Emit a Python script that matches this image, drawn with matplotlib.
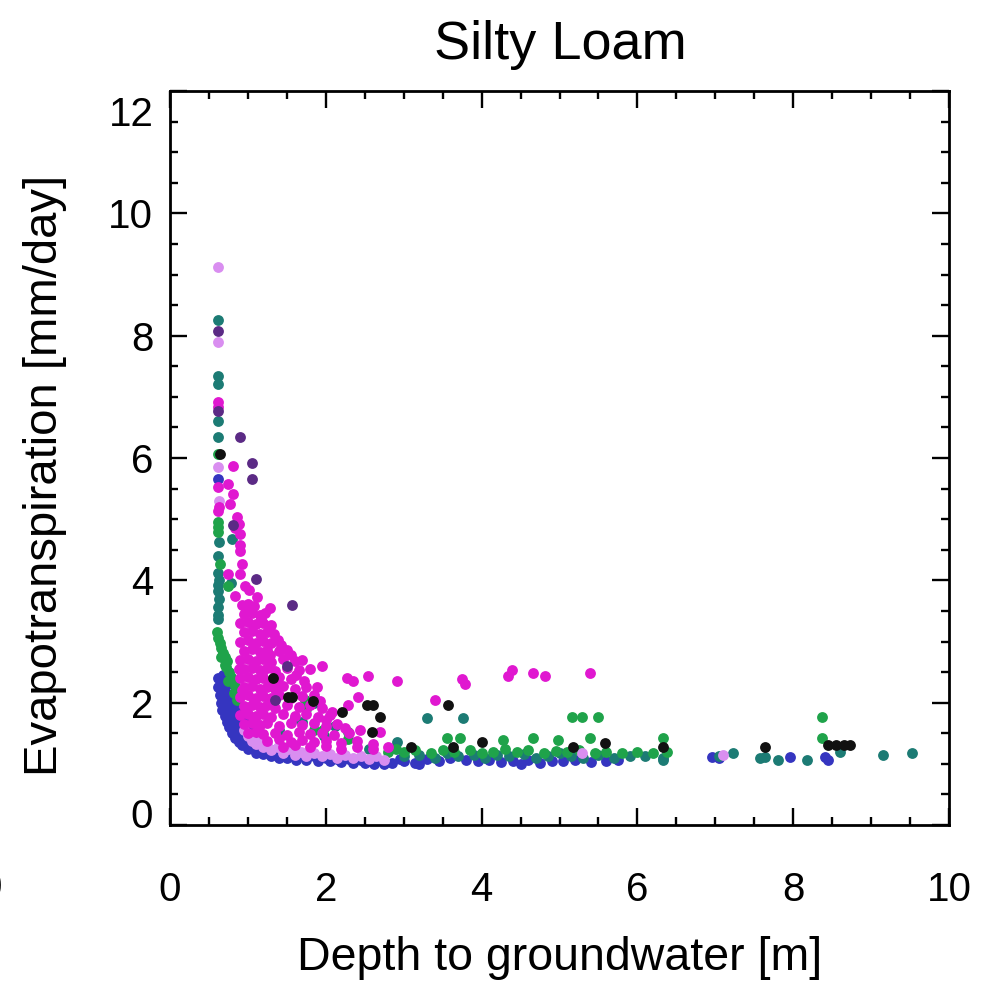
import matplotlib
matplotlib.use("Agg")
import matplotlib.pyplot as plt
from matplotlib.ticker import MultipleLocator
import matplotlib.transforms as mtransforms

plt.rcParams['font.family'] = ['Liberation Sans', 'DejaVu Sans']

title = "Silty Loam"
xlabel = "Depth to groundwater [m]"
ylabel = "Evapotranspiration [mm/day]"
xticks = [0, 2, 4, 6, 8, 10]
yticks = [0, 2, 4, 6, 8, 10, 12]

# ---- data (depth [m], ET [mm/day]) per colour group ----
blue_pts = [
    (0.62, 5.65), (0.62, 2.40), (0.66, 2.35), (0.62, 2.25), (0.68, 2.20), (0.64, 2.12),
    (0.70, 2.05), (0.65, 2.00), (0.72, 1.95), (0.67, 1.88), (0.75, 1.85), (0.70, 1.78),
    (0.78, 1.75), (0.73, 1.68), (0.82, 1.65), (0.76, 1.60), (0.85, 1.55), (0.80, 1.50),
    (0.90, 1.48), (0.84, 1.42), (0.95, 1.40), (0.88, 1.36), (1.00, 1.33), (0.93, 1.30),
    (1.05, 1.27), (1.00, 1.24), (1.12, 1.22), (1.10, 1.18), (1.20, 1.16), (1.30, 1.13),
    (1.40, 1.10), (1.50, 1.09), (1.62, 1.07), (1.75, 1.06), (1.90, 1.05), (2.05, 1.04),
    (2.20, 1.03), (2.35, 1.02), (2.50, 1.02), (2.62, 1.00), (2.75, 1.00), (2.85, 1.02),
    (3.00, 1.05), (3.15, 1.02), (3.30, 1.08), (3.45, 1.05), (3.60, 1.10), (3.80, 1.06),
    (3.95, 1.04), (4.10, 1.07), (4.25, 1.03), (4.40, 1.05), (4.60, 1.07), (4.75, 1.02),
    (4.90, 1.05), (5.05, 1.04), (5.20, 1.06), (5.40, 1.03), (5.60, 1.05), (5.75, 1.07),
    (6.96, 1.11), (7.05, 1.10), (7.96, 1.11), (8.41, 1.11), (8.45, 1.07), (0.78, 2.10),
    (0.74, 2.30), (0.68, 2.45), (0.80, 1.90), (0.86, 1.75), (0.92, 1.58), (1.15, 1.28),
    (0.97, 1.50), (0.72, 2.15), (1.25, 1.20), (3.20, 1.00), (2.95, 1.08), (4.50, 1.00),
    (0.84, 2.00), (0.90, 1.85), (0.95, 1.70), (1.02, 1.55), (1.08, 1.42), (1.18, 1.35),
    (1.35, 1.22), (1.55, 1.17), (1.70, 1.14), (1.85, 1.12), (2.00, 1.10), (2.15, 1.08),
    (2.30, 1.08), (2.45, 1.06), (2.60, 1.06), (2.72, 1.05), (0.66, 2.28), (0.70, 1.90),
]
teal_pts = [
    (0.62, 8.26), (0.62, 7.34), (0.62, 7.21), (0.62, 6.60), (0.62, 6.34), (0.63, 4.62),
    (0.80, 4.67), (0.62, 4.40), (0.62, 4.12), (0.63, 4.00), (0.62, 3.93), (0.62, 3.82),
    (0.63, 3.69), (0.62, 3.56), (0.62, 3.44), (0.62, 3.36), (0.78, 3.95),
    (3.00, 1.12), (3.20, 1.15), (3.40, 1.10), (3.55, 1.17), (3.70, 1.12), (3.90, 1.15),
    (4.05, 1.10), (4.20, 1.14), (4.35, 1.12), (4.55, 1.16), (4.70, 1.10), (4.85, 1.13),
    (5.00, 1.17), (5.15, 1.12), (5.30, 1.10), (5.50, 1.14), (5.70, 1.10), (5.90, 1.13),
    (6.10, 1.12), (6.33, 1.10), (6.33, 1.06), (7.05, 1.12), (7.23, 1.18), (7.57, 1.10),
    (7.64, 1.11), (7.81, 1.07), (8.18, 1.07), (8.60, 1.20), (9.15, 1.15), (9.52, 1.18),
    (3.30, 1.75), (3.76, 1.75), (2.91, 1.36), (1.85, 2.00), (1.70, 1.68), (1.60, 1.75),
    (1.98, 1.45), (2.12, 1.62), (1.40, 1.55), (2.55, 1.25),
]
green_pts = [
    (0.62, 6.07), (0.62, 4.95), (0.62, 4.87), (0.62, 4.79), (0.64, 4.26), (0.75, 3.90),
    (0.60, 3.15), (0.62, 3.05), (0.64, 2.98), (0.66, 2.90), (0.68, 2.82), (0.70, 2.75),
    (0.73, 2.68), (0.72, 2.58), (0.76, 2.50), (0.78, 2.42), (0.80, 2.35), (0.84, 2.28),
    (0.87, 2.20), (0.82, 2.15), (0.86, 2.05), (0.66, 2.75), (0.70, 2.62), (0.75, 2.35),
    (1.73, 2.05), (1.75, 1.90), (2.29, 1.52), (2.29, 1.40), (1.96, 1.56), (1.85, 1.55),
    (3.56, 1.43), (3.72, 1.43), (4.27, 1.39), (4.66, 1.43), (4.98, 1.39), (5.16, 1.77),
    (5.29, 1.77), (5.50, 1.77), (5.39, 1.43), (6.33, 1.43), (8.37, 1.77), (8.37, 1.43),
    (2.90, 1.25), (2.80, 1.20), (3.00, 1.20), (3.15, 1.22), (3.35, 1.18), (3.50, 1.22),
    (3.65, 1.20), (3.85, 1.23), (4.00, 1.18), (4.15, 1.20), (4.30, 1.24), (4.45, 1.19),
    (4.60, 1.22), (4.80, 1.18), (4.95, 1.21), (5.10, 1.19), (5.25, 1.22), (5.45, 1.18),
    (5.60, 1.20), (5.80, 1.17), (6.00, 1.19), (6.20, 1.17), (6.38, 1.20),
]
violet_pts = [
    (0.62, 9.13), (0.62, 7.90), (0.62, 5.85), (0.63, 5.30),
    (1.00, 1.45), (1.05, 1.38), (1.10, 1.32), (1.15, 1.38), (1.20, 1.27), (1.25, 1.33),
    (1.30, 1.22), (1.38, 1.28), (1.45, 1.18), (1.52, 1.24), (1.60, 1.15), (1.68, 1.20),
    (1.75, 1.13), (1.85, 1.17), (1.95, 1.12), (2.05, 1.16), (2.15, 1.10), (2.25, 1.14),
    (2.35, 1.09), (2.45, 1.13), (2.55, 1.08), (2.65, 1.12), (2.75, 1.07), (1.10, 1.70),
    (1.20, 1.90), (0.95, 1.55), (5.29, 1.18), (1.05, 3.20), (7.10, 1.15),
]
magenta_pts = [
    (0.62, 6.92), (0.62, 6.84), (0.62, 5.52), (0.62, 5.13), (0.63, 5.20),
    (0.81, 5.87), (0.75, 5.57), (0.81, 5.41), (0.77, 5.25), (0.86, 5.03), (0.88, 4.92),
    (0.84, 4.85), (0.90, 4.75), (0.90, 4.57), (0.90, 4.48), (0.93, 4.26), (0.75, 4.10),
    (0.90, 4.10), (0.96, 3.90), (0.84, 3.75),
    (1.95, 2.60), (1.89, 2.25), (2.27, 2.41), (2.35, 2.35), (2.54, 2.43), (2.91, 2.35),
    (3.75, 2.38), (3.79, 2.30), (4.34, 2.43), (4.39, 2.54), (4.66, 2.49), (4.81, 2.44),
    (5.39, 2.49), (2.41, 2.10), (2.29, 1.97), (3.40, 2.05), (2.08, 1.84), (2.44, 1.56),
    (2.70, 1.52),
    (0.92, 3.60), (1.00, 3.62), (1.08, 3.58), (0.95, 3.45), (1.05, 3.47), (1.15, 3.43),
    (1.22, 3.46), (0.90, 3.30), (1.00, 3.32), (1.10, 3.28), (1.20, 3.31), (1.30, 3.27),
    (0.95, 3.15), (1.05, 3.17), (1.15, 3.13), (1.25, 3.16), (0.90, 3.00), (1.00, 3.02),
    (1.10, 2.98), (1.20, 3.01), (1.30, 2.97), (1.38, 3.02), (0.95, 2.85), (1.05, 2.87),
    (1.15, 2.83), (1.25, 2.86), (1.40, 2.84), (1.50, 2.86), (0.90, 2.70), (1.00, 2.72),
    (1.10, 2.68), (1.20, 2.71), (1.30, 2.67), (1.45, 2.72), (1.60, 2.68), (1.70, 2.70),
    (0.95, 2.55), (1.05, 2.57), (1.15, 2.53), (1.25, 2.56), (1.35, 2.52), (1.50, 2.57),
    (1.65, 2.53), (1.80, 2.55), (0.90, 2.40), (1.00, 2.42), (1.10, 2.38), (1.20, 2.41),
    (1.30, 2.37), (1.40, 2.42), (1.55, 2.38), (0.95, 2.25), (1.05, 2.27), (1.15, 2.23),
    (1.25, 2.26), (1.35, 2.22), (1.45, 2.27), (1.60, 2.23), (1.75, 2.26), (0.90, 2.10),
    (1.00, 2.12), (1.10, 2.08), (1.20, 2.11), (1.30, 2.07), (1.40, 2.12), (1.55, 2.08),
    (1.70, 2.11), (0.95, 1.95), (1.05, 1.97), (1.15, 1.93), (1.25, 1.96), (1.35, 1.92),
    (1.50, 1.97), (1.65, 1.93), (1.80, 1.96), (1.95, 1.92), (0.90, 1.80), (1.00, 1.82),
    (1.10, 1.78), (1.20, 1.81), (1.30, 1.77), (1.45, 1.82), (1.60, 1.78), (1.75, 1.81),
    (1.90, 1.77), (2.05, 1.80), (0.95, 1.65), (1.05, 1.67), (1.15, 1.63), (1.25, 1.66),
    (1.40, 1.62), (1.55, 1.67), (1.70, 1.63), (1.85, 1.66), (2.00, 1.62), (2.15, 1.65),
    (1.00, 1.50), (1.10, 1.52), (1.20, 1.48), (1.35, 1.51), (1.50, 1.47), (1.65, 1.52),
    (1.80, 1.48), (1.95, 1.51), (2.10, 1.47), (2.30, 1.50), (1.25, 1.38), (1.40, 1.40),
    (1.55, 1.36), (1.70, 1.39), (1.85, 1.35), (2.00, 1.38), (2.20, 1.34), (2.40, 1.37),
    (2.60, 1.33), (1.45, 1.28), (1.60, 1.30), (1.80, 1.27), (2.00, 1.29), (2.20, 1.25),
    (2.40, 1.28), (2.60, 1.24), (2.80, 1.27), (1.02, 3.85), (1.12, 3.72), (1.28, 3.55),
    (0.97, 3.52), (1.17, 3.38), (1.33, 3.12), (1.43, 2.95), (1.55, 2.78), (1.62, 2.45),
    (1.72, 2.35), (1.85, 2.12), (1.92, 2.02), (2.00, 1.72), (2.25, 1.58), (0.88, 2.55),
    (0.92, 2.20), (0.98, 1.88), (1.08, 2.02), (1.18, 2.47), (1.28, 2.78), (1.38, 2.30),
]
darkpurple_pts = [
    (0.62, 8.07), (0.90, 6.34), (1.05, 5.92), (1.05, 5.66), (0.81, 4.90), (1.57, 3.60),
    (1.10, 4.02), (0.62, 6.77), (1.50, 2.60), (1.35, 2.05),
]
black_pts = [
    (0.64, 6.07), (1.32, 2.41), (1.51, 2.10), (1.57, 2.10), (1.84, 2.02), (2.21, 1.84),
    (2.53, 1.97), (2.60, 1.97), (2.70, 1.77), (2.59, 1.52), (3.57, 1.97), (4.00, 1.36),
    (3.10, 1.28), (3.63, 1.28), (5.17, 1.28), (5.58, 1.34), (6.33, 1.28), (7.64, 1.28),
    (8.45, 1.31), (8.55, 1.31), (8.65, 1.31), (8.73, 1.31),
]

series = [
    (blue_pts, '#3535c0'),
    (teal_pts, '#1c7b74'),
    (green_pts, '#1fa34a'),
    (violet_pts, '#d98ef0'),
    (magenta_pts, '#e018d0'),
    (darkpurple_pts, '#5b2a85'),
    (black_pts, '#111111'),
]

W, H = 994, 989
fig = plt.figure(figsize=(W / 100, H / 100), dpi=100)
ax = fig.add_axes([170 / W, 1 - 825 / H, (949 - 170) / W, (825 - 91) / H])

for pts, col in series:
    xs = [p[0] for p in pts]
    ys = [p[1] for p in pts]
    ax.plot(xs, ys, 'o', ms=7.8, color=col, mec='none')

ax.set_xlim(0, 10)
ax.set_ylim(0, 12)
ax.set_xticks(xticks)
ax.set_yticks(yticks)
ax.xaxis.set_minor_locator(MultipleLocator(0.5))
ax.yaxis.set_minor_locator(MultipleLocator(0.5))
ax.tick_params(which='both', direction='in', top=True, right=True, width=1.7,
               labelsize=29, colors='black')
ax.tick_params(axis='x', which='major', length=12, pad=33)
ax.tick_params(axis='y', which='major', length=12, pad=12)
ax.tick_params(which='minor', length=6)
for s in ax.spines.values():
    s.set_linewidth(2.0)

# end y labels are pulled inward as in the reference
fig.canvas.draw()
yt = ax.yaxis.get_major_ticks()
yt[0].label1.set_transform(yt[0].label1.get_transform() +
                           mtransforms.ScaledTranslation(0, 12 / 100, fig.dpi_scale_trans))
yt[-1].label1.set_transform(yt[-1].label1.get_transform() +
                            mtransforms.ScaledTranslation(0, -20 / 100, fig.dpi_scale_trans))

fig.text(560 / W, 1 - 45 / H, title, ha='center', va='center', fontsize=39)
fig.text(560 / W, 1 - 958 / H, xlabel, ha='center', va='center', fontsize=33.5)
fig.text(45 / W, 1 - 475 / H, ylabel, ha='center', va='center', fontsize=34, rotation=90)
fig.text(-9 / W, 1 - 888 / H, "0", ha='center', va='center', fontsize=29)

fig.savefig("out.png", dpi=100, facecolor='white')
